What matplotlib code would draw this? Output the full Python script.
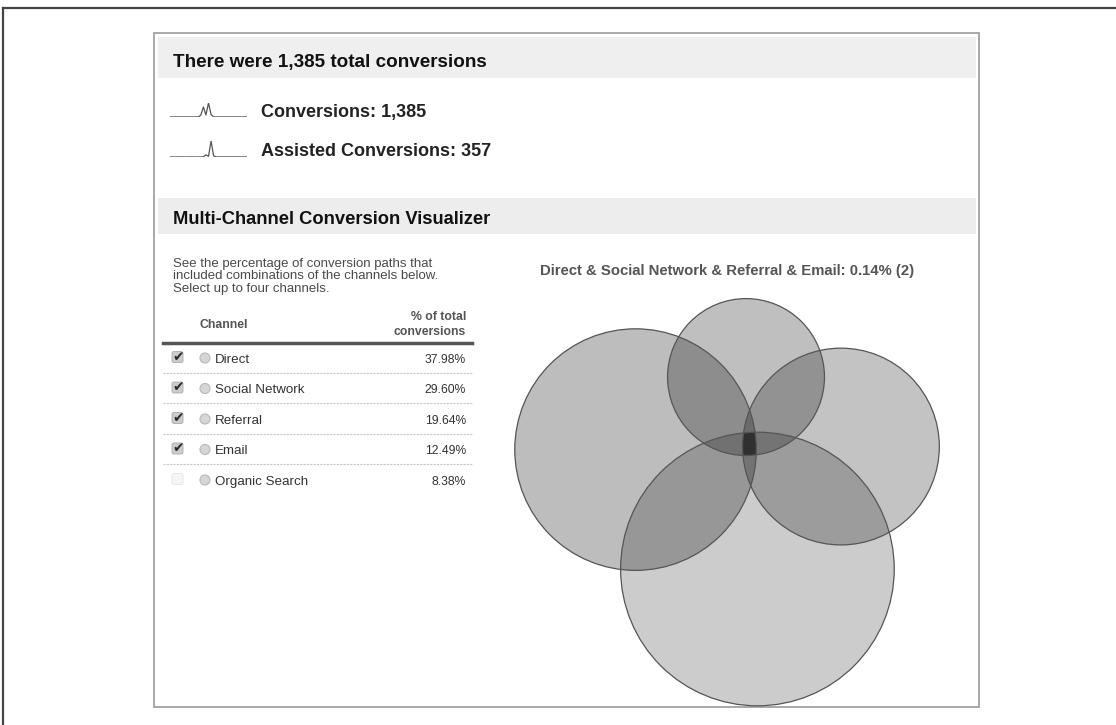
import numpy as np
import matplotlib
matplotlib.use("Agg")
import matplotlib.pyplot as plt
from matplotlib.patches import Circle, Rectangle, Polygon, FancyBboxPatch

plt.rcParams['font.family'] = ['Liberation Sans', 'DejaVu Sans']

# --- dados ---
conv_daily = [5, 2, 4, 3, 3, 2, 4, 3, 2, 3, 4, 3, 80, 430, 90, 600, 107,
              4, 3, 2, 3, 4, 2, 3, 3, 2, 4, 3, 2, 3, 2]
assisted_daily = [1, 1, 0, 1, 1, 1, 0, 1, 1, 1, 0, 1, 1, 2, 35, 12, 260, 18,
                  2, 1, 2, 1, 2, 1, 2, 1, 2, 1, 2, 1, 2]

channels = ["Direct", "Social Network", "Referral", "Email", "Organic Search"]
share_pct = [37.98, 29.60, 19.64, 12.49, 8.38]
selected = [True, True, True, True, False]

overlap_pct = 0.14
overlap_paths = 2

# --- layout (pixels) ---
W, H = 1116, 725
hub = (750.0, 444.0)
venn_angle = [86.6, 177.2, 1.6, 266.6]   # direção de cada círculo a partir do centro comum
venn_depth = [11.6, 6.2, 7.4, 11.4]      # quanto cada círculo passa do centro comum
venn_alpha = [0.20, 0.26, 0.235, 0.25]
px_per_sqrt = 22.2

fig = plt.figure(figsize=(W / 100, H / 100), dpi=100)
ax = fig.add_axes([0, 0, 1, 1])
ax.set_xlim(0, W)
ax.set_ylim(H, 0)
ax.axis('off')

# moldura externa e painel
ax.plot([3, 3], [8, H], color='#444444', lw=1.6)
ax.plot([3, W], [8, 8], color='#444444', lw=1.6)
ax.add_patch(Rectangle((154, 33), 825, 674, fc='white', ec='#a8a8a8', lw=1.4))
ax.add_patch(Rectangle((158, 37), 818, 41, fc='#efefef', ec='none'))
ax.add_patch(Rectangle((158, 198), 818, 36, fc='#ededed', ec='none'))

# cabeçalho
ax.text(173, 67, f"There were {sum(conv_daily):,} total conversions",
        fontsize=13.6, fontweight='bold', color='#111111')
ax.text(261, 117, f"Conversions: {sum(conv_daily):,}",
        fontsize=13, fontweight='bold', color='#222222')
ax.text(261, 156, f"Assisted Conversions: {sum(assisted_daily):,}",
        fontsize=13, fontweight='bold', color='#222222')


def sparkline(vals, top, base):
    sa = fig.add_axes([170 / W, 1 - base / H, 77 / W, (base - top) / H])
    sa.plot(range(len(vals)), vals, color='#555555', lw=0.9)
    sa.set_xlim(0, len(vals) - 1)
    sa.set_ylim(0, max(vals))
    sa.axis('off')


sparkline(conv_daily, 103, 117)
sparkline(assisted_daily, 141, 157)

# visualizador
ax.text(173, 224, "Multi-Channel Conversion Visualizer",
        fontsize=13.2, fontweight='bold', color='#111111')
desc = ["See the percentage of conversion paths that",
        "included combinations of the channels below.",
        "Select up to four channels."]
for i, line in enumerate(desc):
    ax.text(173, 266.7 + i * 12.4, line, fontsize=9.5, color='#4a4a4a')

# tabela de canais
ax.text(199, 327.7, "Channel", fontsize=8.8, fontweight='bold', color='#555555')
ax.text(466, 320, "% of total", fontsize=8.8, fontweight='bold', color='#555555', ha='right')
ax.text(466, 335, "conversions", fontsize=8.8, fontweight='bold', color='#555555', ha='right')
ax.plot([163, 472], [342.7, 342.7], color='#555555', lw=2.5)

for i, (name, pct, sel) in enumerate(zip(channels, share_pct, selected)):
    by = 362.5 + i * 30.5
    ax.add_patch(FancyBboxPatch((172, by - 11), 11, 11,
                                boxstyle='round,pad=0,rounding_size=2',
                                fc='#cccccc' if sel else '#f6f6f6',
                                ec='#aaaaaa' if sel else '#e4e4e4', lw=0.6))
    if sel:
        ax.text(178.5, by - 5.5, "\u2714", fontsize=10, color='#2a2a2a',
                ha='center', va='center', family='DejaVu Sans')
    ax.add_patch(Circle((205, by - 4.5), 5, fc='#d6d6d6', ec='#b8b8b8', lw=0.8))
    ax.text(215, by, name, fontsize=9.6, color='#333333')
    ax.text(466, by, f"{pct:.2f}%", fontsize=8.7, color='#333333', ha='right')
    if i < len(channels) - 1:
        ax.plot([163, 472], [by + 10, by + 10], color='#c8c8c8', lw=0.8,
                ls=(0, (2, 1)))

# diagrama de Venn (4 canais selecionados)
sel_names = [n for n, s in zip(channels, selected) if s]
sel_pct = [p for p, s in zip(share_pct, selected) if s]
ax.text(727, 275, " & ".join(sel_names) + f": {overlap_pct:.2f}% ({overlap_paths})",
        fontsize=10.7, fontweight='bold', color='#555555', ha='center')

centers, radii = [], []
for pct, ang, dep in zip(sel_pct, venn_angle, venn_depth):
    r = px_per_sqrt * np.sqrt(pct)
    d = r - dep
    a = np.deg2rad(ang)
    centers.append((hub[0] + d * np.cos(a), hub[1] + d * np.sin(a)))
    radii.append(r)

for (cx, cy), r, al in zip(centers, radii, venn_alpha):
    ax.add_patch(Circle((cx, cy), r, fc='black', alpha=al, ec='none', zorder=2))

# região comum aos quatro canais (interseção de discos é convexa)
t = np.linspace(0, 2 * np.pi, 1440, endpoint=False)
pts = []
for (cx, cy), r in zip(centers, radii):
    p = np.column_stack([cx + r * np.cos(t), cy + r * np.sin(t)])
    inside = np.ones(len(p), bool)
    for (ox, oy), orr in zip(centers, radii):
        inside &= np.hypot(p[:, 0] - ox, p[:, 1] - oy) <= orr + 1e-6
    pts.append(p[inside])
pts = np.vstack(pts)
c0 = pts.mean(axis=0)
pts = pts[np.argsort(np.arctan2(pts[:, 1] - c0[1], pts[:, 0] - c0[0]))]
ax.add_patch(Polygon(pts, closed=True, fc='#303030', ec='none', zorder=3))

for (cx, cy), r in zip(centers, radii):
    ax.add_patch(Circle((cx, cy), r, fill=False, ec='#555555', lw=0.9, zorder=4))

fig.savefig("out.png", dpi=100)
